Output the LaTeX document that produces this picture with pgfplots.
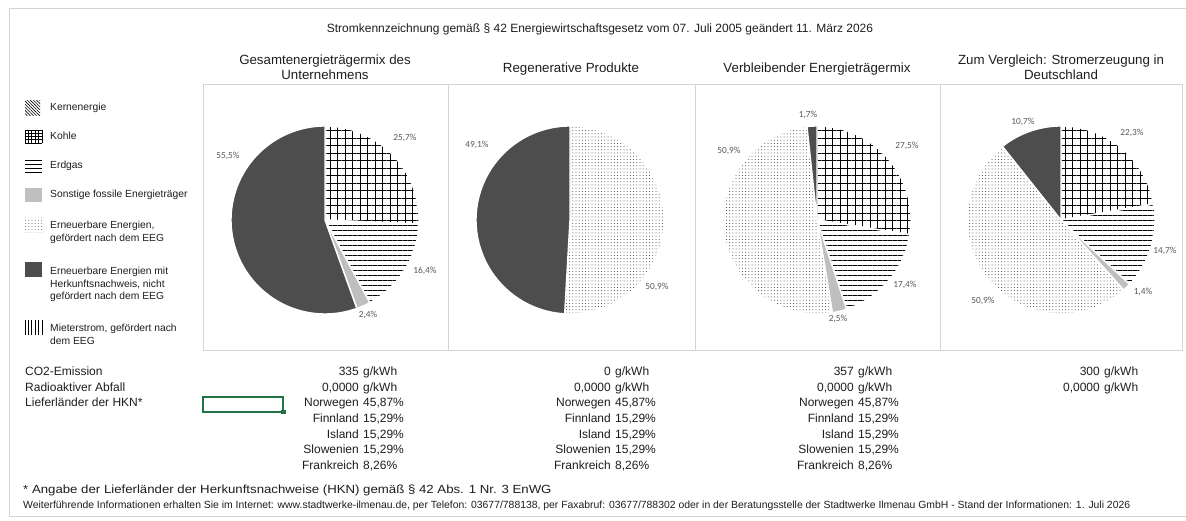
\documentclass[border=0pt]{standalone}
\usepackage{pgfplots}
\pgfplotsset{compat=1.18}
\usetikzlibrary{patterns.meta}
\usepackage{fontspec}
\setmainfont{Liberation Sans}
\newfontfamily\labfont{Carlito}

\definecolor{hkngray}{RGB}{77,77,77}
\definecolor{sonstgray}{RGB}{191,191,191}
\definecolor{rulegray}{RGB}{212,212,212}
\definecolor{xlgreen}{RGB}{33,115,70}
\definecolor{labgray}{RGB}{89,89,89}
\definecolor{txt}{RGB}{30,30,30}

% slice styles (white border like Excel)
\tikzset{
  sl/.style={draw=white, line width=1.4pt},
  kohle/.style={sl, pattern={Hatch[angle=0,distance=7.5pt,line width=1pt]}, pattern color=black},
  erdgas/.style={sl, pattern={Lines[angle=0,distance=5pt,line width=1pt]}, pattern color=black},
  sonstige/.style={sl, fill=sonstgray},
  eeg/.style={sl, pattern={Dots[distance=3.2pt,radius=0.5pt]}, pattern color=black!80},
  hkn/.style={sl, fill=hkngray},
}
\pgfplotsset{pieax/.style={anchor=center, width=188pt, height=188pt, scale only axis,
  hide axis, xmin=-1, xmax=1, ymin=-1, ymax=1, clip=false}}

% slices clockwise from 12 o'clock, value in percent / style
\newcommand\pieslices[1]{%
  \gdef\cum{0}%
  \foreach \v/\s in {#1}{%
    \pgfmathsetmacro\pa{90-3.6*(\cum+\v)}%
    \pgfmathsetmacro\pb{90-3.6*\cum}%
    \pgfmathsetmacro\pc{\cum+\v}\xdef\cum{\pc}%
    \edef\doslice{\noexpand\addplot[\s, domain=\pa:\pb, samples=90]
      ({cos(x)},{sin(x)}) -- (axis cs:0,0) -- cycle;}%
    \doslice
  }%
}

\newcommand\fT{\fontsize{12}{14}\selectfont}
\newcommand\fA{\fontsize{13.3}{15.5}\selectfont}
\newcommand\fL{\fontsize{10.3}{12.5}\selectfont}
\newcommand\fB{\fontsize{12}{14}\selectfont}
\newcommand\fP{\labfont\fontsize{9.3}{11}\selectfont}

\begin{document}
\begin{tikzpicture}
\useasboundingbox (0,0) rectangle (1186pt,521pt);
\fill[white] (0,0) rectangle (1186pt,521pt);

% ---- pies ----
\begin{axis}[pieax, at={(325pt,301pt)}]
\pieslices{25.7/kohle, 16.4/erdgas, 2.4/sonstige, 55.5/hkn}
\end{axis}
\begin{axis}[pieax, at={(570pt,301pt)}]
\pieslices{50.9/eeg, 49.1/hkn}
\end{axis}
\begin{axis}[pieax, at={(817pt,301pt)}]
\pieslices{27.5/kohle, 17.4/erdgas, 2.5/sonstige, 50.9/eeg, 1.7/hkn}
\end{axis}
\begin{axis}[pieax, at={(1061pt,301pt)}]
\pieslices{22.3/kohle, 14.7/erdgas, 1.4/sonstige, 50.9/eeg, 10.7/hkn}
\end{axis}

\begin{scope}[x=1pt, y=-1pt, yshift=521pt, every node/.style={inner sep=0pt, text=txt}]
% frame and boxes
\draw[rulegray] (9,8) -- (1186,8);
\draw[rulegray] (9,8) -- (9,516) -- (1186,516);
\foreach \a/\b in {203/448, 448/695, 695/940, 940/1182}
  \draw[rulegray] (\a,84) rectangle (\b,350);

% titles
\node[anchor=mid] at (600,30) {\fT Stromkennzeichnung gemäß § 42 Energiewirtschaftsgesetz vom 07. Juli 2005 geändert 11. März 2026};
\node[anchor=mid] at (325,62) {\fA Gesamtenergieträgermix des};
\node[anchor=mid] at (325,77) {\fA Unternehmens};
\node[anchor=mid] at (571,70) {\fA Regenerative Produkte};
\node[anchor=mid] at (817,70) {\fA Verbleibender Energieträgermix};
\node[anchor=mid] at (1061,62) {\fA Zum Vergleich: Stromerzeugung in};
\node[anchor=mid] at (1061,77) {\fA Deutschland};

% data labels
\foreach \x/\y/\t in {405/138/{25,7\%}, 425/271/{16,4\%}, 368/315/{2,4\%}, 228/156/{55,5\%},
  477/145/{49,1\%}, 657/287/{50,9\%},
  808/115/{1,7\%}, 907/146/{27,5\%}, 905/285/{17,4\%}, 838/319/{2,5\%}, 729/151/{50,9\%},
  1023/122/{10,7\%}, 1132/133/{22,3\%}, 1165/251/{14,7\%}, 1143/292/{1,4\%}, 983/301/{50,9\%}}
  \node[anchor=mid, text=labgray] at (\x,\y) {\fP \t};

% legend symbols
\begin{scope}
\clip (25,101) rectangle (40,116);
\fill[pattern={Lines[angle=-45,distance=2.2pt,line width=0.6pt]}, pattern color=black] (25,101) rectangle (40,116);
\end{scope}
\foreach \xx in {25,28.4,31.8,35.2,38.6,42} \draw[line width=0.75pt] (\xx,130) -- (\xx,143);
\foreach \yy in {130,133.25,136.5,139.75,143} \draw[line width=0.75pt] (25,\yy) -- (42,\yy);
\foreach \yy in {160,164.3,168.6,172.9} \draw[line width=0.9pt] (25,\yy) -- (42,\yy);
\fill[sonstgray] (25,188) rectangle (42,202);
\fill[pattern={Dots[distance=3.2pt,radius=0.45pt]}, pattern color=black!75] (25,218) rectangle (42,233);
\fill[hkngray] (25,262) rectangle (42,277);
\foreach \xx in {25,28.4,31.8,35.2,38.6,42} \draw[line width=0.9pt] (\xx,320) -- (\xx,335);

% legend text
\foreach \y/\t in {108/Kernenergie, 137/Kohle, 166/Erdgas, 195/Sonstige fossile Energieträger,
  226/{Erneuerbare Energien,}, 239/gefördert nach dem EEG,
  272/Erneuerbare Energien mit, 284.5/{Herkunftsnachweis, nicht}, 297/gefördert nach dem EEG,
  329/{Mieterstrom, gefördert nach}, 342/dem EEG}
  \node[anchor=mid west] at (50,\y) {\fL \t};

% table below
\node[anchor=mid west] at (25,373) {\fB CO2-Emission};
\node[anchor=mid west] at (25,388.6) {\fB Radioaktiver Abfall};
\node[anchor=mid west] at (25,404.2) {\fB Lieferländer der HKN*};
\draw[xlgreen, line width=1.3pt] (203,397) rectangle (283,412);
\fill[xlgreen] (281,410) rectangle (285.5,414.5);

\foreach \s/\n in {361/335, 613/0, 856/357, 1102/300}{
  \node[anchor=mid east] at (\s-2,373) {\fB \n};
  \node[anchor=mid west] at (\s+2,373) {\fB g/kWh};
  \node[anchor=mid east] at (\s-2,388.6) {\fB 0,0000};
  \node[anchor=mid west] at (\s+2,388.6) {\fB g/kWh};
}
\foreach \s in {361,613,856}{
  \foreach \y/\c/\p in {404.2/Norwegen/{45,87\%}, 419.8/Finnland/{15,29\%}, 435.4/Island/{15,29\%},
    451/Slowenien/{15,29\%}, 466.6/Frankreich/{8,26\%}}{
    \node[anchor=mid east] at (\s-2,\y) {\fB \c};
    \node[anchor=mid west] at (\s+2,\y) {\fB \p};
  }
}

% footnotes
\node[anchor=mid west] at (23,491) {\scalebox{1.12}[1]{\fontsize{11.8}{14}\selectfont * Angabe der Lieferländer der Herkunftsnachweise (HKN) gemäß § 42 Abs. 1 Nr. 3 EnWG}};
\node[anchor=mid west] at (23,506) {\fontsize{10.4}{12}\selectfont Weiterführende Informationen erhalten Sie im Internet: www.stadtwerke-ilmenau.de, per Telefon: 03677/788138, per Faxabruf: 03677/788302 oder in der Beratungsstelle der Stadtwerke Ilmenau GmbH - Stand der Informationen: 1. Juli 2026};
\end{scope}
\end{tikzpicture}
\end{document}
